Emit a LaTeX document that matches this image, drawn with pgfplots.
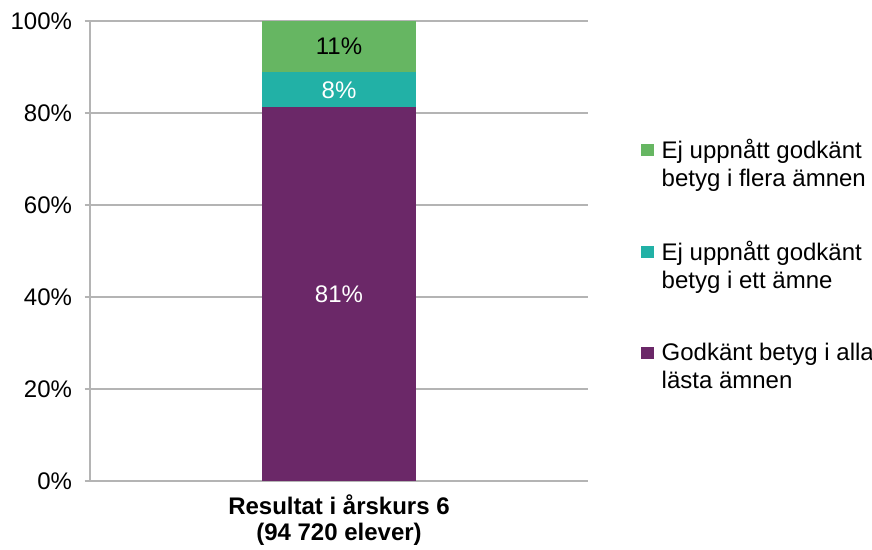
\documentclass[border=0pt]{standalone}
\usepackage{pgfplots}
\pgfplotsset{compat=1.18}
\usepackage{fontspec}
\setmainfont{Liberation Sans}
\definecolor{cpurple}{HTML}{6B2868}
\definecolor{cteal}{HTML}{22B1A6}
\definecolor{cgreen}{HTML}{66B662}
\definecolor{cgrid}{HTML}{B4B4B4}
\begin{document}
\begin{tikzpicture}
\useasboundingbox (0,0) rectangle (654pt,412.5pt);
\begin{axis}[
at={(67.5pt,51.75pt)},anchor=origin,
scale only axis,width=373.5pt,height=345pt,
ybar stacked,bar width=116pt,
xmin=0,xmax=2,ymin=0,ymax=100,
xtick={1},xticklabels={Resultat i årskurs 6\\(94 720 elever)},
xticklabel style={font=\fontsize{18}{19.5}\selectfont\bfseries,align=center,yshift=-3pt},
major x tick style={draw=none},
ytick={0,20,...,100},
yticklabel={\pgfmathprintnumber{\tick}\%},
yticklabel style={font=\fontsize{18}{19}\selectfont,xshift=-6pt},
/pgf/number format/assume math mode=true,
axis x line*=bottom,axis y line*=left,
axis line style={cgrid,line width=0.9pt},
y axis line style={-},x axis line style={-},
ymajorgrids=true,grid style={cgrid,line width=0.9pt},
tick style={cgrid,line width=0.9pt},
tick align=outside,major tick length=4pt,
point meta=explicit symbolic,
nodes near coords={\pgfplotspointmeta\%},
every node near coord/.append style={font=\fontsize{18}{19}\selectfont,anchor=center},
reverse legend,
legend image code/.code={\fill[#1] (0pt,5.5pt) rectangle (9.5pt,15pt);},
legend style={draw=none,fill=none,at={(1.106,0.75)},anchor=north west,
  font=\fontsize{18}{21}\selectfont,row sep=35.5pt,column sep=4pt,inner sep=0pt,
  cells={anchor=west,align=left}},
]
\addplot[fill=cpurple,draw=none,every node near coord/.append style={white}] coordinates {(1,81.2) [81]};
\addlegendentry{Godkänt betyg i alla\\lästa ämnen}
\addplot[fill=cteal,draw=none,every node near coord/.append style={white}] coordinates {(1,7.7) [8]};
\addlegendentry{Ej uppnått godkänt\\betyg i ett ämne}
\addplot[fill=cgreen,draw=none,every node near coord/.append style={black}] coordinates {(1,11.1) [11]};
\addlegendentry{Ej uppnått godkänt\\betyg i flera ämnen}
\end{axis}
\end{tikzpicture}
\end{document}
